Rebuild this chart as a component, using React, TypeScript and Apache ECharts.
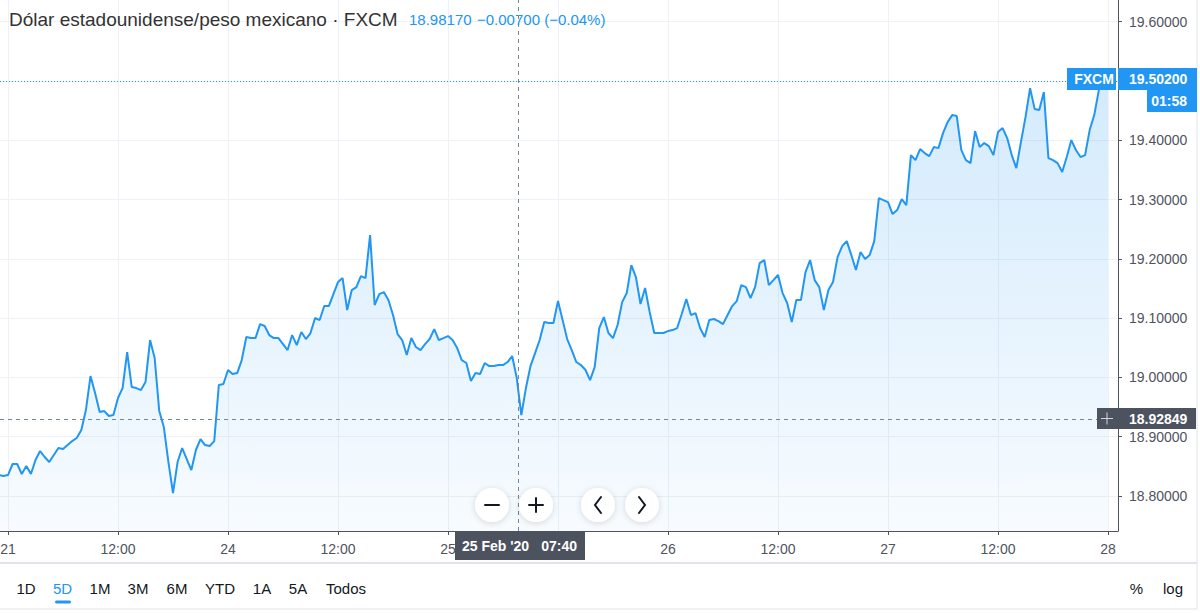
import React, { useEffect, useRef } from "react";
import * as echarts from "echarts";

const TITLE = "Dólar estadounidense/peso mexicano · FXCM";
const QUOTE_LAST = "18.98170";
const QUOTE_CHANGE = "−0.00700 (−0.04%)";

// trading-time hours since 21 Feb 00:00 (weekend removed), sampled every half hour
const startHour = -1;
const stepHours = 0.5;
const prices = [
  18.8354, 18.8337, 18.8354, 18.854, 18.854, 18.8371, 18.8506, 18.8371, 18.8607, 18.8759,
  18.8658, 18.8573, 18.8691, 18.8809, 18.8793, 18.886, 18.8927, 18.8978, 18.9113, 18.945,
  19.0024, 18.9737, 18.9416, 18.9433, 18.9349, 18.9366, 18.9653, 18.9821, 19.0428, 18.9838,
  18.9821, 18.9787, 18.9922, 19.0631, 19.0327, 18.9433, 18.9164, 18.8573, 18.8051, 18.8573,
  18.8809, 18.8624, 18.8438, 18.8776, 18.8961, 18.886, 18.8843, 18.8927, 18.9872, 18.9889,
  19.0125, 19.0057, 19.0074, 19.0293, 19.0681, 19.0664, 19.0664, 19.09, 19.0867, 19.0715,
  19.0664, 19.0664, 19.0563, 19.0462, 19.0715, 19.0546, 19.0766, 19.0648, 19.0749, 19.1002,
  19.0968, 19.1204, 19.1204, 19.1406, 19.1609, 19.1676, 19.1137, 19.1474, 19.1524, 19.171,
  19.1676, 19.2401, 19.1221, 19.1406, 19.144, 19.1305, 19.1052, 19.0732, 19.0631, 19.0378,
  19.0664, 19.0513, 19.0462, 19.0563, 19.0648, 19.0816, 19.0631, 19.0664, 19.0698, 19.0631,
  19.0496, 19.0293, 19.0243, 18.9939, 19.0074, 19.0057, 19.0243, 19.0192, 19.0192, 19.0209,
  19.0209, 19.026, 19.0361, 18.999, 18.9366, 18.9821, 19.0192, 19.0411, 19.0631, 19.0934,
  19.0917, 19.0917, 19.1288, 19.0968, 19.0648, 19.0462, 19.026, 19.0209, 19.0125, 18.9956,
  19.0175, 19.0833, 19.1018, 19.0749, 19.0664, 19.0884, 19.1271, 19.1423, 19.1895, 19.1693,
  19.1238, 19.1508, 19.1103, 19.0749, 19.0749, 19.0749, 19.0782, 19.0799, 19.0833, 19.1069,
  19.1322, 19.1052, 19.1086, 19.0833, 19.0681, 19.0968, 19.0985, 19.0951, 19.09, 19.1052,
  19.1204, 19.1288, 19.1558, 19.1524, 19.1339, 19.1524, 19.1929, 19.198, 19.1558, 19.1642,
  19.1727, 19.1423, 19.1255, 19.0934, 19.1305, 19.1305, 19.1777, 19.198, 19.1642, 19.1524,
  19.1137, 19.1474, 19.1609, 19.203, 19.2216, 19.23, 19.2064, 19.1811, 19.2115, 19.1997,
  19.2064, 19.23, 19.3025, 19.2991, 19.2958, 19.2755, 19.2823, 19.3008, 19.2907, 19.375,
  19.3666, 19.3851, 19.3784, 19.3733, 19.3885, 19.3868, 19.4121, 19.4307, 19.4425, 19.4408,
  19.3835, 19.3666, 19.3615, 19.4155, 19.3885, 19.3953, 19.3902, 19.375, 19.4138, 19.4206,
  19.4037, 19.375, 19.3531, 19.397, 19.4391, 19.488, 19.4526, 19.4509, 19.4813, 19.37,
  19.3666, 19.3615, 19.3464, 19.3717, 19.4003, 19.3835, 19.3717, 19.375, 19.4172, 19.4425,
  19.4846, 19.5015, 19.502,
];

const xTickHours = [0, 12, 24, 36, 48, 60, 72, 84, 96, 108, 120];
// the 12:00 label of the 25th is hidden under the crosshair time label
const xTickLabels = ["21", "12:00", "24", "12:00", "25", "", "26", "12:00", "27", "12:00", "28"];
const yTicks = [18.8, 18.9, 19.0, 19.1, 19.2, 19.3, 19.4, 19.5, 19.6];

const lastPrice = 19.502;
const lastPriceLabel = "19.50200";
const countdownLabel = "01:58";
const sourceLabel = "FXCM";
const crosshairHour = 55.667;
const crosshairPrice = 18.92849;
const crosshairDate = "25 Feb '20";
const crosshairTime = "07:40";
const rangeButtons = ["1D", "5D", "1M", "3M", "6M", "YTD", "1A", "5A", "Todos"];
const activeRange = "5D";

const FONT = '"Liberation Sans", Arial, sans-serif';
const BLUE = "#2196f3";
const AXIS_TEXT = "#50535e";

function txt(x: number, y: number, text: string, size: number, fill: string, align = "left", weight = "normal") {
  return {
    type: "text",
    z: 100,
    x,
    y,
    style: {
      text,
      fill,
      font: `${weight} ${size}px ${FONT}`,
      textAlign: align,
      textVerticalAlign: "middle",
      align,
      verticalAlign: "middle",
    },
  };
}

export default function App() {
  const ref = useRef<HTMLDivElement>(null);

  useEffect(() => {
    if (!ref.current) return;
    const chart = echarts.init(ref.current, null, { renderer: "svg" });
    const data = prices.map((v, i) => [startHour + i * stepHours, v]);

    const rangeX = [26, 62.5, 100, 138, 177, 220, 262, 298, 346];
    const graphics: any[] = [
      txt(9, 19, TITLE, 19, "#333333"),
      txt(409, 19, QUOTE_LAST, 15, BLUE),
      txt(477, 19, QUOTE_CHANGE, 15, BLUE),
      // separator / frame
      { type: "line", z: 100, shape: { x1: 0, y1: 563, x2: 1197, y2: 563 }, style: { stroke: "#e0e3eb", lineWidth: 2 } },
      { type: "line", z: 100, shape: { x1: 1197, y1: 0, x2: 1197, y2: 609 }, style: { stroke: "#e0e3eb", lineWidth: 1 } },
      { type: "line", z: 100, shape: { x1: 0, y1: 609, x2: 1197, y2: 609 }, style: { stroke: "#e0e3eb", lineWidth: 1 } },
    ];

    // zoom / scroll buttons
    const btns = [492, 536, 598, 642];
    btns.forEach((cx) => {
      graphics.push({
        type: "circle",
        z: 90,
        shape: { cx, cy: 505, r: 17 },
        style: { fill: "#ffffff", shadowBlur: 6, shadowColor: "rgba(0,0,0,0.15)", shadowOffsetY: 1 },
      });
    });
    const icon = { stroke: "#131722", lineWidth: 2, lineCap: "round" };
    graphics.push({ type: "line", z: 95, shape: { x1: 485, y1: 505, x2: 499, y2: 505 }, style: icon });
    graphics.push({ type: "line", z: 95, shape: { x1: 529, y1: 505, x2: 543, y2: 505 }, style: icon });
    graphics.push({ type: "line", z: 95, shape: { x1: 536, y1: 498, x2: 536, y2: 512 }, style: icon });
    graphics.push({ type: "polyline", z: 95, shape: { points: [[601, 497], [595, 505], [601, 513]] }, style: { ...icon, fill: null } });
    graphics.push({ type: "polyline", z: 95, shape: { points: [[639, 497], [645, 505], [639, 513]] }, style: { ...icon, fill: null } });

    // crosshair date label
    graphics.push({ type: "rect", z: 100, shape: { x: 455, y: 531, width: 130, height: 29 }, style: { fill: "#4c525e" } });
    graphics.push(txt(462, 546, crosshairDate, 14, "#ffffff", "left", "bold"));
    graphics.push(txt(577, 546, crosshairTime, 14, "#ffffff", "right", "bold"));

    // crosshair price label
    graphics.push({ type: "rect", z: 100, shape: { x: 1097, y: 408, width: 99, height: 21 }, style: { fill: "#4c525e" } });
    graphics.push({ type: "line", z: 101, shape: { x1: 1101, y1: 418.5, x2: 1113, y2: 418.5 }, style: { stroke: "#d1d4dc", lineWidth: 1 } });
    graphics.push({ type: "line", z: 101, shape: { x1: 1107, y1: 412.5, x2: 1107, y2: 424.5 }, style: { stroke: "#d1d4dc", lineWidth: 1 } });
    graphics.push(txt(1129, 419, crosshairPrice.toFixed(5), 14, "#ffffff", "left", "bold"));

    // last price labels
    graphics.push({ type: "rect", z: 100, shape: { x: 1067, y: 68, width: 49, height: 22 }, style: { fill: BLUE } });
    graphics.push(txt(1094, 79, sourceLabel, 14, "#ffffff", "center", "bold"));
    graphics.push({ type: "rect", z: 100, shape: { x: 1118, y: 68, width: 79, height: 22 }, style: { fill: BLUE } });
    graphics.push(txt(1129, 79, lastPriceLabel, 14, "#ffffff", "left", "bold"));
    graphics.push({ type: "rect", z: 100, shape: { x: 1147, y: 90, width: 50, height: 22 }, style: { fill: BLUE } });
    graphics.push(txt(1187, 101, countdownLabel, 14, "#ffffff", "right", "bold"));

    // range toolbar
    rangeButtons.forEach((r, i) => {
      graphics.push(txt(rangeX[i], 588, r, 15, r === activeRange ? BLUE : "#131722", "center"));
    });
    graphics.push({ type: "rect", z: 100, shape: { x: 55, y: 600.5, width: 16, height: 3, r: 1.5 }, style: { fill: BLUE } });
    graphics.push(txt(1136.5, 588, "%", 15, "#131722", "center"));
    graphics.push(txt(1173, 588, "log", 15, "#131722", "center"));

    chart.setOption({
      animation: false,
      backgroundColor: "#ffffff",
      grid: { left: 0, right: 82, top: 0, bottom: 82, containLabel: false, outerBoundsMode: "none" },
      xAxis: {
        type: "value",
        min: -0.8727,
        max: 121.09,
        axisLine: { show: true, onZero: false, lineStyle: { color: AXIS_TEXT, width: 1 } },
        axisTick: { show: true, length: 4, customValues: xTickHours, lineStyle: { color: AXIS_TEXT } },
        axisLabel: {
          customValues: xTickHours,
          margin: 11,
          fontFamily: FONT,
          fontSize: 14,
          color: AXIS_TEXT,
          formatter: (v: number) => {
            const k = xTickHours.findIndex((h) => Math.abs(h - v) < 1e-6);
            return k >= 0 ? xTickLabels[k] : "";
          },
        },
        splitLine: { show: true, lineStyle: { color: "#eef1f6", width: 1 } },
      },
      yAxis: {
        type: "value",
        position: "right",
        min: 18.741,
        max: 19.6366,
        axisLine: { show: true, onZero: false, lineStyle: { color: AXIS_TEXT, width: 1 } },
        axisTick: { show: true, length: 4, customValues: yTicks, lineStyle: { color: AXIS_TEXT } },
        axisLabel: {
          customValues: yTicks,
          margin: 11,
          fontFamily: FONT,
          fontSize: 14,
          color: AXIS_TEXT,
          formatter: (v: number) => v.toFixed(5),
        },
        splitLine: { show: true, lineStyle: { color: "#eef1f6", width: 1 } },
      },
      graphic: graphics,
      series: [
        {
          type: "line",
          data,
          showSymbol: false,
          symbol: "none",
          lineStyle: { color: BLUE, width: 2 },
          areaStyle: {
            color: new echarts.graphic.LinearGradient(0, 0, 0, 1, [
              { offset: 0, color: "rgba(33,150,243,0.28)" },
              { offset: 1, color: "rgba(33,150,243,0.05)" },
            ]),
          },
          markLine: {
            silent: true,
            symbol: ["none", "none"],
            label: { show: false },
            data: [
              { yAxis: lastPrice, lineStyle: { color: BLUE, type: [1, 2], width: 1 } },
              { xAxis: crosshairHour, lineStyle: { color: "#758696", type: [4, 4], width: 1 } },
              { yAxis: crosshairPrice, lineStyle: { color: "#758696", type: [4, 4], width: 1 } },
            ],
          },
        },
      ],
    });
    return () => chart.dispose();
  }, []);

  return (
    <div style={{ position: "fixed", left: 0, top: 0, width: 1200, height: 613, background: "#fff" }}>
      <div ref={ref} style={{ width: 1200, height: 613 }} />
    </div>
  );
}
